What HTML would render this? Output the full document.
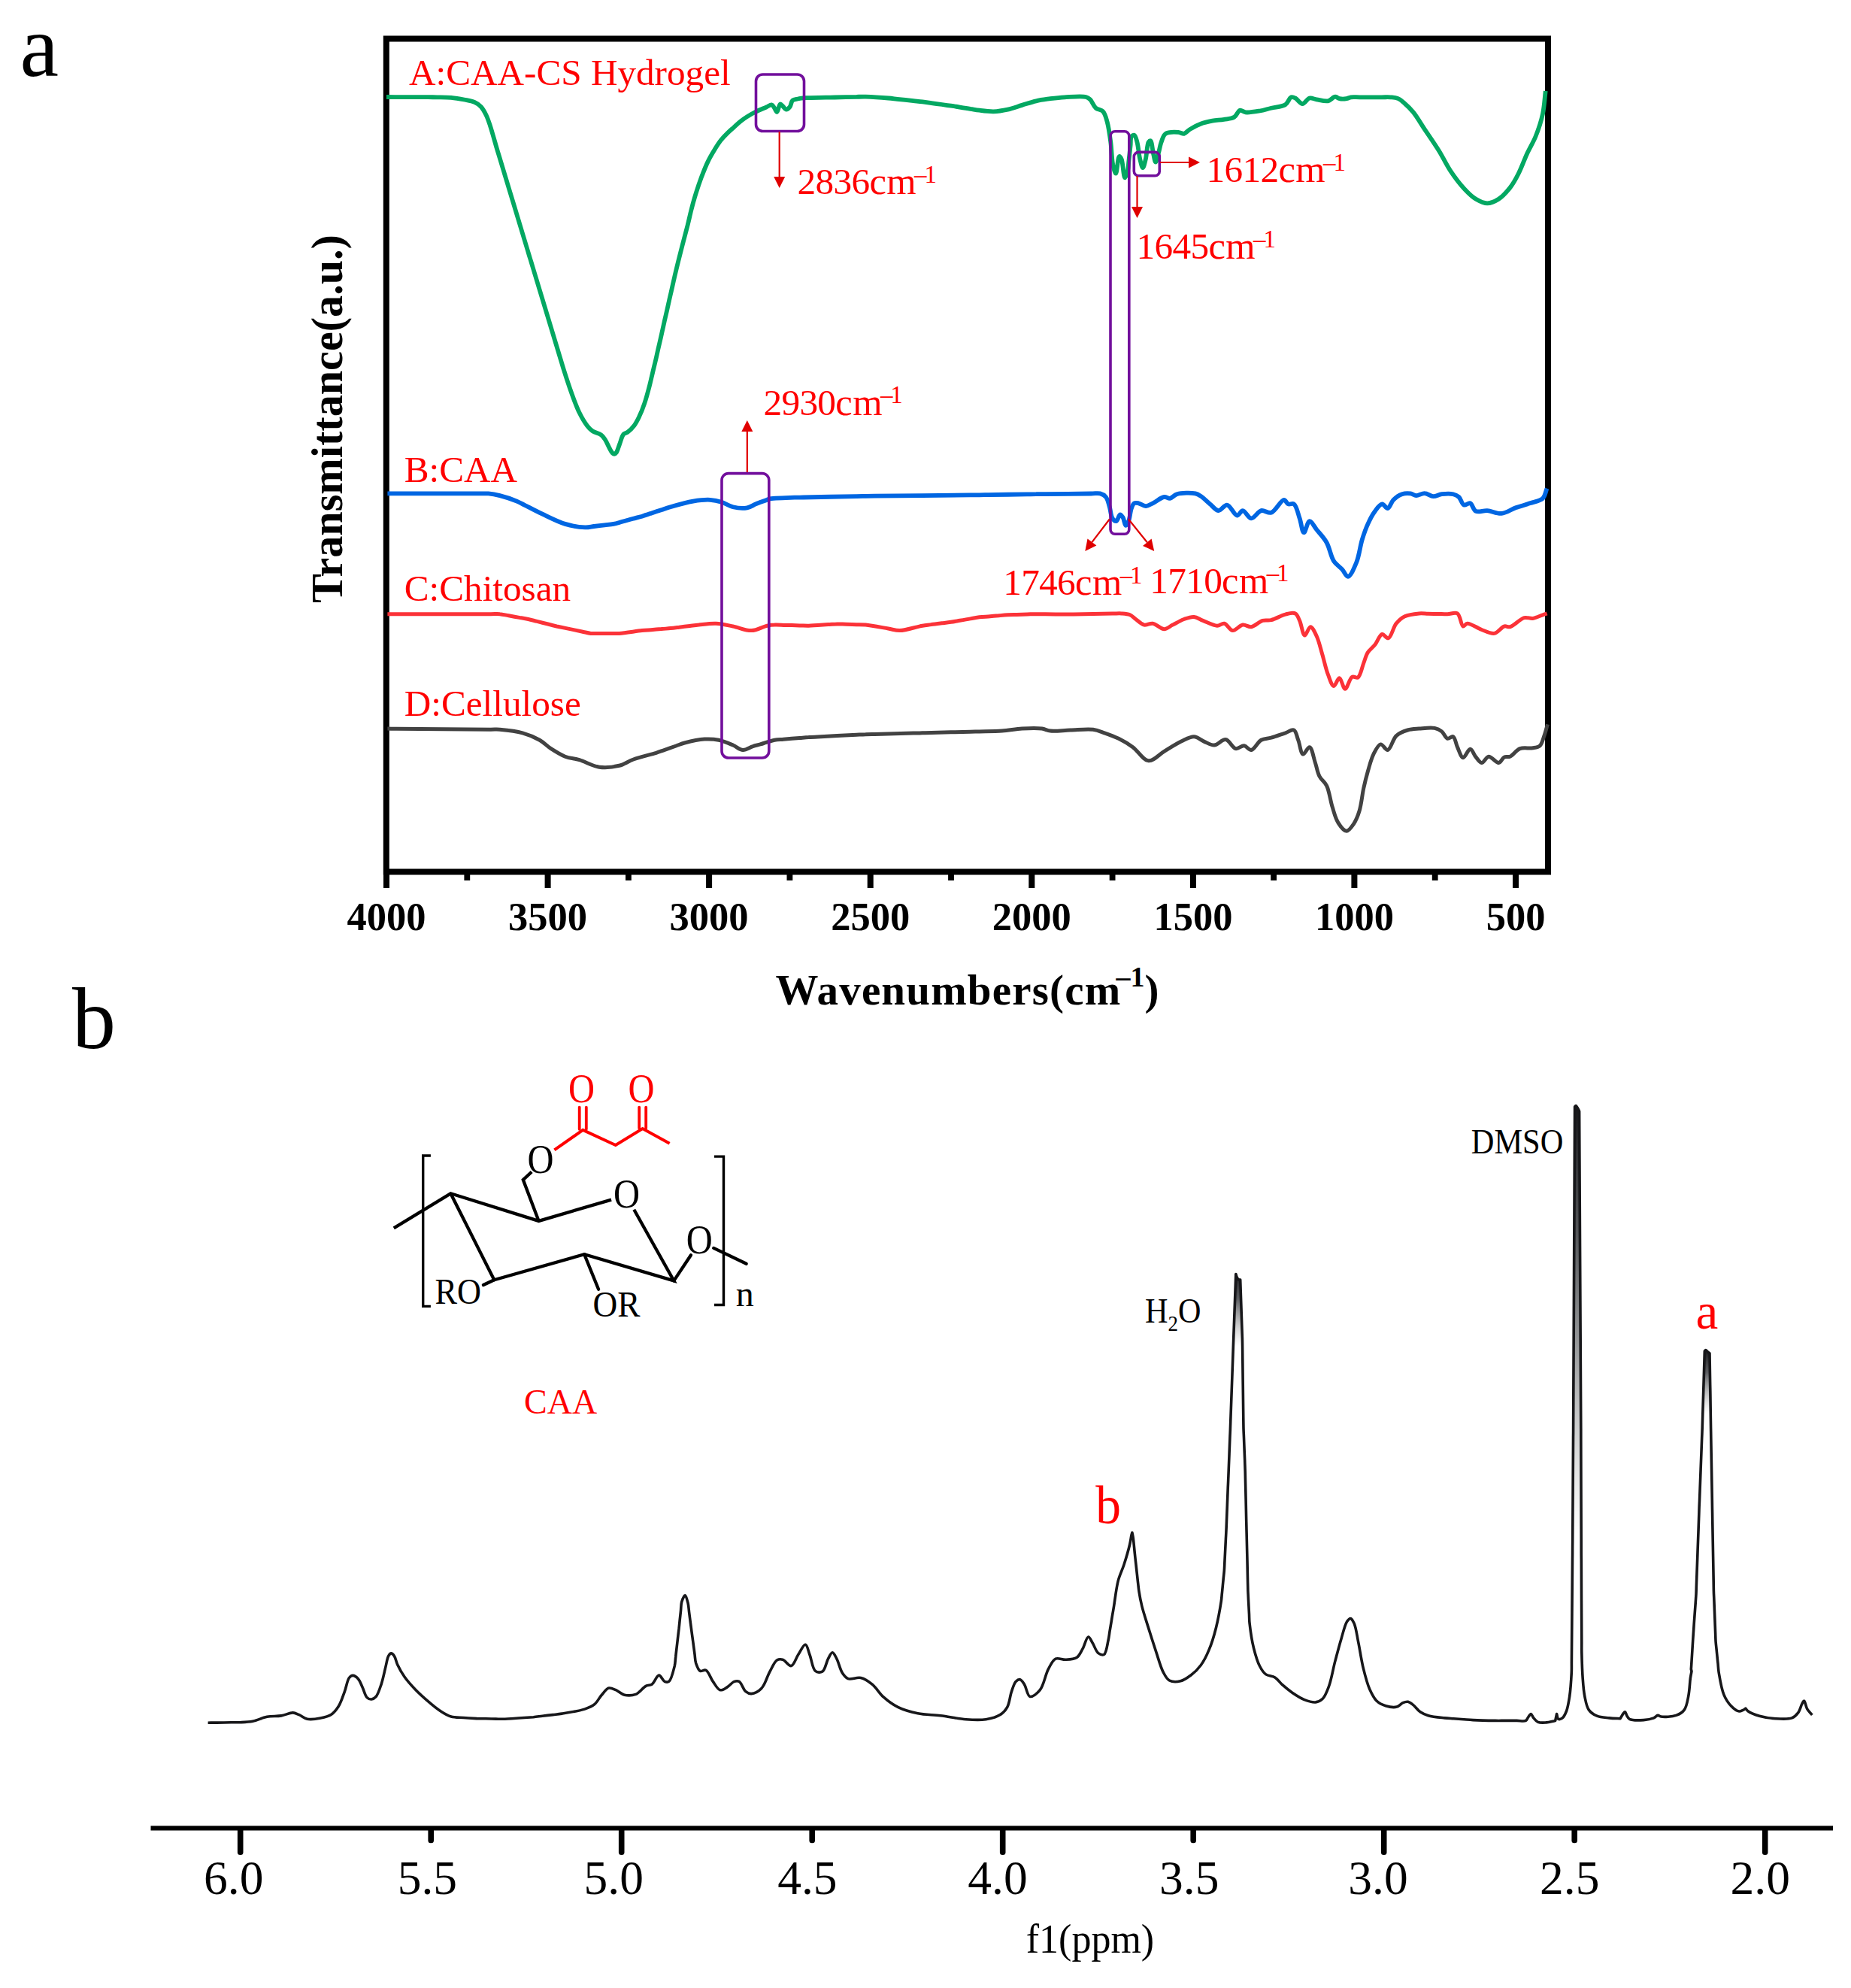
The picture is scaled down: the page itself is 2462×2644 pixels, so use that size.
<!DOCTYPE html>
<html lang="en"><head><meta charset="utf-8"><title>Figure</title>
<style>html,body{margin:0;padding:0;background:#fff}svg{display:block}text{font-family:"Liberation Serif","Times New Roman",serif}</style>
</head><body>
<svg width="2462" height="2644" viewBox="0 0 2462 2644">
<rect width="2462" height="2644" fill="#fff"/>
<text x="26.5" y="101.3" font-size="116" fill="#000">a</text>
<text x="96" y="1394" font-size="116" fill="#000">b</text>
<g id="panel-a">
<rect x="513.8" y="51.5" width="1545.2" height="1108.0" fill="none" stroke="#000" stroke-width="8"/>
<path d="M514.0,129.0 C518.0,129.0 520.8,129.0 526.0,129.1 C536.0,129.1 559.5,129.2 569.5,129.2 C574.7,129.3 577.1,129.2 581.5,129.3 C587.0,129.4 594.0,129.2 600.0,129.8 C605.9,130.3 611.9,131.4 617.3,132.5 C622.2,133.5 627.2,134.1 631.1,135.9 C634.5,137.4 637.3,139.3 639.8,142.0 C642.6,145.0 644.7,149.2 646.7,153.2 C648.8,157.5 650.1,161.6 651.9,167.1 C654.5,175.0 658.3,188.9 660.5,196.4 C661.9,201.1 662.2,202.0 664.0,207.9 C669.8,227.2 695.7,312.7 701.5,332.0 C703.3,337.9 703.8,339.7 705.0,343.5 C706.2,347.3 706.7,349.1 708.5,355.0 C714.4,374.4 740.5,461.0 746.4,480.4 C748.2,486.3 748.4,487.2 749.9,491.9 C752.4,499.8 756.7,513.1 760.3,523.0 C763.6,532.1 766.9,541.4 770.7,549.0 C773.9,555.5 777.7,561.9 781.0,566.2 C783.3,569.2 785.1,571.2 787.9,573.2 C791.2,575.5 797.0,576.3 800.0,578.7 C802.4,580.6 803.6,582.8 805.2,585.3 C807.1,588.3 808.7,592.5 810.4,595.6 C811.8,598.2 813.3,601.3 814.7,602.6 C815.5,603.4 816.2,604.0 817.0,603.9 C817.9,603.8 819.0,602.9 819.9,601.7 C821.5,599.5 822.7,594.4 824.2,590.5 C825.8,586.3 827.1,580.0 829.4,577.5 C830.9,575.9 832.8,576.2 834.6,574.9 C837.3,573.0 840.8,569.5 843.3,566.2 C846.0,562.7 848.0,558.6 850.2,554.1 C852.7,548.9 855.0,543.2 857.1,536.9 C859.6,529.6 862.3,519.3 864.0,512.7 C865.2,508.1 865.8,505.0 866.8,501.0 C867.8,496.8 868.9,492.2 869.9,488.0 C870.9,484.0 871.8,480.2 872.7,476.3 C873.6,472.4 874.4,468.7 875.3,464.6 C876.4,460.0 877.6,454.6 878.7,450.0 C879.6,445.9 880.4,442.2 881.3,438.3 C882.2,434.4 883.0,430.7 883.9,426.6 C885.0,422.0 886.2,416.6 887.3,412.0 C888.2,407.9 889.0,404.2 889.9,400.3 C890.8,396.4 891.6,392.7 892.6,388.6 C893.6,384.0 894.9,378.5 895.9,373.9 C896.9,369.8 897.4,367.1 898.6,362.2 C900.6,353.7 904.4,338.6 907.2,327.7 C909.7,318.0 912.3,308.6 914.5,300.0 C916.4,292.5 917.8,285.6 919.5,279.0 C921.0,273.0 922.3,268.1 924.2,261.8 C926.6,254.0 929.9,243.9 932.9,235.8 C935.7,228.5 938.4,221.4 941.5,215.1 C944.2,209.4 947.2,204.4 950.2,199.5 C953.0,194.9 955.8,190.5 958.8,186.6 C961.6,183.1 964.5,180.0 967.5,177.1 C970.3,174.3 973.2,171.9 976.1,169.3 C979.0,166.7 981.8,163.9 984.8,161.5 C987.6,159.3 990.2,157.4 993.4,155.4 C997.0,153.1 1001.3,150.6 1005.5,148.5 C1009.9,146.3 1015.5,144.2 1019.3,142.5 C1022.1,141.3 1024.5,138.9 1026.4,139.3 C1028.0,139.6 1028.9,142.0 1030.0,143.5 C1031.2,145.2 1032.3,149.1 1033.4,149.0 C1034.9,148.9 1036.0,139.0 1037.7,138.5 C1038.8,138.2 1040.3,140.4 1041.5,141.5 C1042.9,142.7 1044.0,145.5 1045.5,145.7 C1047.0,145.9 1049.2,143.9 1050.6,142.2 C1052.3,140.1 1052.2,135.4 1054.1,133.6 C1055.8,132.0 1058.4,132.0 1061.0,131.5 C1064.2,130.8 1067.5,130.5 1072.0,130.2 C1078.9,129.7 1091.3,129.9 1098.3,129.7 C1103.1,129.6 1105.5,129.6 1110.3,129.5 C1117.9,129.3 1131.7,129.0 1139.3,128.9 C1144.2,128.7 1146.4,128.5 1151.3,128.6 C1159.1,128.8 1173.8,129.8 1181.5,130.5 C1186.4,130.9 1188.9,131.3 1193.5,131.8 C1199.6,132.4 1208.9,133.4 1215.0,134.1 C1219.6,134.6 1223.0,134.9 1226.9,135.4 C1230.9,135.9 1234.7,136.5 1238.8,137.1 C1243.3,137.7 1248.4,138.4 1252.9,139.0 C1257.0,139.6 1260.8,140.1 1264.8,140.7 C1268.7,141.3 1272.5,141.9 1276.6,142.6 C1281.1,143.3 1286.2,144.1 1290.7,144.9 C1294.8,145.5 1298.2,146.2 1302.6,146.7 C1308.1,147.4 1315.2,148.4 1321.5,148.3 C1327.8,148.1 1334.1,147.0 1340.4,145.6 C1346.8,144.2 1353.0,141.8 1359.3,139.9 C1365.6,138.0 1371.9,135.7 1378.2,134.3 C1384.5,132.8 1390.8,132.1 1397.1,131.2 C1403.4,130.4 1409.1,129.7 1416.0,129.3 C1424.5,128.9 1438.7,127.4 1444.4,129.0 C1447.2,129.7 1448.2,130.6 1450.1,132.4 C1452.7,134.9 1454.5,141.0 1457.6,143.7 C1460.4,146.1 1464.7,145.6 1467.1,148.3 C1470.0,151.4 1471.2,157.0 1472.8,162.6 C1474.8,170.0 1476.1,180.0 1477.3,189.1 C1478.6,198.8 1478.7,211.8 1480.3,219.4 C1481.4,224.1 1482.9,230.8 1484.1,230.7 C1485.8,230.6 1486.7,208.5 1488.7,208.0 C1489.6,207.8 1490.8,209.8 1491.7,211.8 C1493.7,216.3 1494.4,236.2 1496.2,236.4 C1497.4,236.5 1499.2,230.3 1500.0,226.9 C1500.9,223.2 1500.8,219.6 1501.3,215.0 C1502.0,208.9 1503.0,199.6 1503.6,193.5 C1504.1,188.9 1503.4,183.7 1504.9,181.5 C1505.8,180.3 1507.6,179.2 1508.7,179.7 C1510.4,180.3 1511.4,185.2 1512.5,189.1 C1514.1,195.0 1514.7,205.6 1516.3,211.8 C1517.4,216.3 1518.8,223.1 1520.0,223.1 C1521.3,223.1 1522.7,216.3 1523.8,211.8 C1525.4,205.6 1525.6,192.4 1527.6,189.1 C1528.4,187.9 1529.5,186.9 1530.3,187.2 C1532.1,187.9 1532.8,199.1 1534.0,204.2 C1535.1,208.4 1535.9,215.5 1537.1,215.6 C1538.2,215.6 1539.7,208.3 1540.8,204.2 C1542.2,199.6 1542.9,193.7 1544.6,189.1 C1546.2,185.0 1547.0,180.0 1550.3,177.8 C1554.1,175.1 1562.8,175.6 1567.3,175.9 C1570.4,176.1 1572.5,178.2 1574.9,177.8 C1577.5,177.2 1579.4,174.0 1582.5,172.1 C1586.5,169.6 1592.4,166.4 1597.6,164.5 C1602.5,162.7 1607.6,161.7 1612.7,160.7 C1617.7,159.8 1622.9,159.7 1627.8,158.9 C1632.6,158.0 1638.0,158.0 1641.6,155.8 C1644.9,153.8 1646.4,147.5 1649.2,146.7 C1651.5,146.1 1653.6,149.0 1656.7,149.4 C1661.6,150.0 1669.7,148.5 1675.6,147.5 C1681.0,146.6 1685.4,145.0 1690.8,143.7 C1696.7,142.3 1705.1,142.1 1709.7,139.2 C1713.3,136.8 1714.6,130.4 1717.2,129.3 C1719.1,128.7 1720.9,129.5 1722.9,130.5 C1725.8,131.8 1729.2,138.0 1732.4,138.0 C1735.5,138.0 1738.5,131.3 1741.8,130.5 C1744.8,129.8 1747.8,131.8 1751.3,132.4 C1755.7,133.1 1762.1,135.2 1766.4,134.3 C1770.1,133.5 1773.1,128.7 1775.9,128.6 C1778.0,128.5 1779.3,130.8 1781.5,131.2 C1784.2,131.8 1788.3,131.7 1791.0,131.2 C1793.2,130.9 1794.4,129.7 1796.7,129.3 C1799.9,128.8 1803.8,129.3 1808.7,129.3 C1816.2,129.3 1830.1,129.3 1837.6,129.3 C1842.5,129.3 1845.9,129.1 1849.6,129.3 C1853.0,129.6 1856.1,129.6 1859.1,130.9 C1862.4,132.2 1865.4,134.9 1868.5,137.7 C1872.3,140.9 1876.0,144.6 1879.9,149.4 C1884.8,155.5 1889.7,164.1 1895.0,172.1 C1901.0,181.0 1908.1,191.1 1913.9,200.5 C1919.4,209.3 1923.4,218.5 1929.0,226.9 C1934.7,235.5 1941.7,244.8 1948.0,251.5 C1953.0,256.9 1957.7,261.6 1963.1,264.8 C1967.9,267.6 1973.2,270.4 1978.2,270.4 C1983.3,270.4 1988.6,267.8 1993.3,264.8 C1998.8,261.2 2004.1,255.2 2008.5,249.6 C2012.9,243.9 2016.3,237.7 2019.8,230.7 C2023.9,222.8 2027.3,212.7 2031.2,204.2 C2034.8,196.3 2039.2,189.8 2042.5,181.5 C2046.2,172.3 2049.8,161.5 2052.0,151.3 C2054.1,141.3 2054.5,131.1 2055.7,121.0" fill="none" stroke="#03a862" stroke-width="5.8" stroke-linejoin="round" stroke-linecap="butt"/>
<path d="M515.4,656.4 C519.4,656.4 521.3,656.4 527.4,656.4 C545.6,656.4 619.4,656.4 637.6,656.4 C643.6,656.4 645.4,656.1 649.6,656.4 C654.4,656.8 659.3,657.7 664.8,659.1 C671.6,660.8 681.4,664.1 687.4,666.6 C691.8,668.4 694.5,670.1 698.2,672.0 C702.2,674.0 706.7,676.3 710.7,678.3 C714.5,680.2 717.0,681.5 721.5,683.7 C729.0,687.2 741.8,693.9 751.7,696.9 C760.7,699.6 771.1,701.3 778.2,701.4 C783.0,701.6 786.0,700.5 790.1,700.0 C794.6,699.5 799.6,698.9 804.1,698.3 C808.3,697.8 812.1,697.7 816.0,696.9 C820.0,696.1 823.5,694.9 827.6,693.8 C832.2,692.5 837.7,691.1 842.3,689.8 C846.4,688.7 850.0,687.8 853.9,686.7 C857.7,685.5 861.2,684.3 865.3,682.9 C869.9,681.4 875.6,679.5 880.3,678.0 C884.3,676.6 886.9,675.6 891.7,674.2 C899.3,672.0 912.5,668.2 921.9,666.6 C930.0,665.3 937.9,664.4 944.6,664.8 C950.2,665.1 954.8,666.2 959.8,667.8 C964.9,669.4 969.4,672.9 974.9,674.2 C980.7,675.6 988.4,676.3 993.8,675.3 C998.2,674.6 1001.1,672.1 1005.1,670.4 C1009.8,668.5 1017.4,666.0 1020.3,664.8 C1021.4,664.3 1021.4,663.9 1022.7,663.6 C1027.4,662.4 1048.3,662.0 1056.7,661.7 C1061.7,661.5 1063.1,661.6 1068.7,661.5 C1082.5,661.2 1125.6,660.3 1139.3,660.1 C1145.0,660.0 1147.3,659.9 1151.3,659.8 C1155.3,659.8 1157.2,659.8 1163.3,659.7 C1183.2,659.5 1270.6,658.6 1290.6,658.4 C1296.7,658.4 1298.6,658.4 1302.6,658.3 C1306.6,658.3 1309.2,658.2 1314.6,658.1 C1325.8,658.0 1355.0,657.5 1366.2,657.4 C1371.6,657.3 1374.2,657.2 1378.2,657.2 C1382.2,657.1 1384.7,657.1 1390.2,657.1 C1402.7,657.0 1438.8,656.6 1451.3,656.5 C1456.9,656.5 1459.9,655.5 1463.3,656.4 C1466.3,657.2 1468.9,658.6 1470.9,661.0 C1473.4,664.0 1474.4,669.6 1475.8,674.2 C1477.3,679.0 1477.4,686.2 1479.6,689.3 C1481.0,691.4 1483.3,693.5 1484.9,693.1 C1486.8,692.7 1488.1,684.6 1489.8,684.4 C1491.0,684.2 1492.5,686.5 1493.6,688.2 C1495.2,690.7 1495.9,698.6 1497.4,698.8 C1498.5,698.9 1500.1,695.6 1501.1,693.1 C1502.9,689.1 1503.3,680.4 1504.9,676.1 C1506.0,673.2 1506.9,670.3 1508.7,669.3 C1510.2,668.4 1512.3,668.9 1514.4,669.3 C1517.2,669.8 1520.7,673.1 1523.8,673.1 C1527.0,673.1 1529.8,670.9 1533.3,669.3 C1537.8,667.2 1544.1,661.5 1548.4,661.0 C1551.3,660.6 1553.4,663.2 1556.0,662.9 C1559.0,662.4 1561.3,658.4 1565.4,657.2 C1571.5,655.4 1584.3,655.2 1590.0,656.4 C1593.4,657.2 1594.9,658.4 1597.6,660.2 C1601.2,662.6 1605.5,667.2 1609.5,670.4 C1613.2,673.5 1617.0,679.0 1620.8,679.1 C1624.5,679.2 1628.4,671.1 1632.1,671.6 C1636.6,672.1 1641.5,685.3 1645.4,685.6 C1648.2,685.7 1650.2,679.1 1653.0,679.1 C1656.4,679.2 1660.3,689.2 1664.3,689.3 C1668.5,689.5 1672.9,680.2 1677.5,679.1 C1681.7,678.1 1686.4,683.1 1690.8,681.8 C1696.6,680.0 1703.6,664.8 1707.8,664.8 C1710.2,664.8 1711.2,669.5 1713.5,670.4 C1715.6,671.3 1718.9,669.0 1721.0,670.4 C1724.6,672.8 1726.4,683.0 1728.6,689.3 C1730.8,695.6 1731.9,708.0 1734.3,708.2 C1736.4,708.4 1738.9,693.5 1741.8,693.1 C1744.6,692.8 1747.9,700.3 1751.3,704.5 C1755.4,709.5 1760.9,715.0 1764.5,721.5 C1768.6,728.7 1769.9,739.8 1774.0,746.1 C1777.2,751.0 1782.0,753.7 1785.3,757.4 C1788.2,760.6 1790.2,767.0 1792.9,766.9 C1796.5,766.6 1801.2,755.3 1804.2,748.0 C1807.8,739.3 1809.0,726.8 1811.8,717.7 C1814.1,710.1 1816.4,703.4 1819.4,696.9 C1822.1,690.8 1825.3,684.5 1828.8,679.9 C1831.7,676.0 1835.2,670.6 1838.3,670.4 C1840.9,670.2 1843.5,676.5 1845.8,676.1 C1848.6,675.6 1850.3,667.9 1853.4,664.8 C1856.6,661.6 1860.8,658.5 1864.8,657.2 C1868.4,656.0 1872.7,656.0 1876.1,656.4 C1878.9,656.8 1880.9,659.0 1883.7,659.1 C1887.0,659.2 1891.3,655.9 1895.0,656.1 C1898.8,656.2 1902.5,660.0 1906.4,660.2 C1910.1,660.4 1913.6,657.7 1917.7,657.2 C1922.3,656.6 1928.7,656.2 1932.8,657.2 C1935.9,657.9 1938.2,659.0 1940.4,661.0 C1943.1,663.4 1944.3,670.5 1947.2,671.6 C1949.6,672.5 1953.1,668.4 1955.5,669.3 C1958.5,670.4 1959.5,678.2 1963.1,679.9 C1966.9,681.7 1972.9,678.7 1978.2,679.1 C1984.2,679.6 1990.9,683.5 1997.1,682.9 C2003.5,682.3 2009.7,677.6 2016.0,675.3 C2022.3,673.1 2028.8,671.4 2034.9,669.3 C2040.8,667.2 2048.2,666.5 2052.0,662.9 C2055.3,659.6 2055.7,654.0 2057.6,649.6" fill="none" stroke="#0066e2" stroke-width="5.8" stroke-linejoin="round"/>
<path d="M515.4,816.7 C519.4,816.7 521.2,816.7 527.4,816.7 C547.1,816.7 633.0,816.7 652.8,816.7 C658.9,816.7 660.8,816.3 664.8,816.7 C668.7,817.0 672.4,818.1 676.6,818.8 C681.1,819.6 686.2,820.6 690.8,821.4 C694.9,822.1 698.7,822.7 702.6,823.5 C706.5,824.3 710.1,825.4 714.2,826.4 C718.8,827.5 724.2,828.9 728.8,830.0 C732.8,831.1 736.5,832.1 740.4,833.0 C744.3,833.8 747.6,834.5 752.1,835.4 C758.3,836.7 767.9,838.7 774.0,840.0 C778.6,840.9 781.8,842.0 785.8,842.4 C789.7,842.8 793.6,842.4 797.8,842.4 C802.2,842.4 807.2,842.4 811.6,842.4 C815.7,842.4 818.7,842.7 823.6,842.4 C831.4,841.9 846.1,839.4 853.9,838.6 C858.7,838.1 861.7,838.0 865.8,837.7 C870.3,837.3 875.3,836.9 879.7,836.6 C883.9,836.2 887.7,836.0 891.7,835.6 C895.7,835.2 899.5,834.7 903.6,834.2 C908.1,833.6 913.1,833.0 917.6,832.5 C921.7,832.0 924.9,831.5 929.5,831.1 C935.9,830.4 944.6,828.9 952.2,829.2 C959.8,829.5 967.2,831.4 974.9,833.0 C982.9,834.5 991.7,838.9 999.5,838.6 C1006.7,838.4 1014.6,833.4 1020.3,832.2 C1024.2,831.4 1026.8,831.2 1030.3,831.1 C1034.1,830.9 1037.7,831.2 1042.3,831.4 C1048.4,831.5 1057.5,831.7 1063.6,831.9 C1068.2,832.0 1071.6,832.3 1075.6,832.2 C1079.6,832.1 1083.5,831.7 1087.6,831.5 C1092.1,831.2 1097.0,830.9 1101.5,830.6 C1105.6,830.4 1109.5,830.0 1113.5,829.9 C1117.5,829.9 1121.3,830.2 1125.5,830.3 C1129.9,830.4 1134.8,830.6 1139.3,830.7 C1143.4,830.8 1146.4,830.6 1151.3,831.1 C1159.1,831.8 1173.2,834.6 1181.5,836.0 C1187.5,837.0 1190.8,838.7 1196.7,838.6 C1205.0,838.5 1219.1,833.5 1226.9,832.2 C1231.8,831.4 1234.7,831.2 1238.8,830.6 C1243.3,830.1 1248.4,829.4 1252.9,828.8 C1257.0,828.3 1260.8,827.9 1264.8,827.3 C1268.7,826.7 1272.5,826.0 1276.6,825.3 C1281.1,824.5 1286.2,823.6 1290.7,822.9 C1294.9,822.2 1298.6,821.3 1302.6,820.8 C1306.5,820.4 1310.4,820.2 1314.5,819.9 C1319.0,819.5 1324.0,819.1 1328.4,818.8 C1332.6,818.4 1336.4,818.0 1340.4,817.8 C1344.4,817.6 1348.2,817.6 1352.4,817.5 C1356.8,817.3 1361.8,817.2 1366.2,817.0 C1370.4,816.9 1374.2,816.7 1378.2,816.7 C1382.2,816.6 1386.1,816.8 1390.2,816.8 C1394.7,816.9 1399.6,816.9 1404.0,816.9 C1408.2,817.0 1412.0,817.1 1416.0,817.1 C1420.0,817.1 1422.6,817.0 1428.0,816.9 C1439.2,816.7 1468.5,816.3 1479.7,816.1 C1485.1,816.0 1487.7,815.6 1491.7,815.9 C1495.5,816.2 1499.8,816.4 1503.0,817.8 C1506.0,819.1 1507.8,821.5 1510.6,823.5 C1514.0,825.9 1518.0,830.2 1521.9,831.1 C1525.6,831.8 1529.3,828.6 1533.3,829.2 C1538.1,829.9 1543.7,836.7 1548.4,836.7 C1552.5,836.7 1555.7,833.1 1559.8,831.1 C1564.4,828.7 1569.9,825.3 1574.9,823.5 C1579.3,821.9 1583.9,820.1 1588.1,820.5 C1592.2,820.8 1595.6,823.7 1600.0,825.4 C1605.6,827.5 1613.7,832.1 1618.9,832.2 C1622.6,832.3 1625.2,828.6 1628.4,829.2 C1632.2,829.9 1635.7,838.3 1639.7,838.6 C1643.8,839.0 1648.6,831.7 1653.0,831.1 C1656.8,830.5 1660.4,834.2 1664.3,833.7 C1669.1,833.0 1674.6,826.8 1679.4,825.4 C1683.3,824.2 1686.6,825.6 1690.8,824.6 C1696.4,823.4 1703.8,818.5 1709.7,817.1 C1714.4,815.9 1719.7,814.3 1722.9,815.9 C1725.8,817.4 1726.8,821.6 1728.6,825.4 C1731.1,830.7 1732.7,844.7 1735.4,845.1 C1737.6,845.3 1740.4,833.7 1743.0,833.7 C1745.7,833.7 1748.9,841.1 1751.3,846.2 C1754.4,852.8 1756.4,862.4 1758.9,870.8 C1761.4,879.4 1763.5,889.8 1766.4,897.2 C1768.7,903.1 1771.3,912.2 1774.0,912.4 C1776.4,912.6 1779.1,901.6 1781.5,901.8 C1784.2,902.0 1786.4,916.1 1789.1,916.2 C1792.0,916.2 1794.9,902.1 1798.6,900.3 C1800.9,899.1 1804.0,902.3 1806.1,901.0 C1809.6,898.9 1811.4,888.0 1813.7,882.1 C1815.7,877.0 1816.7,871.9 1819.4,867.7 C1821.9,863.8 1825.8,861.3 1828.8,857.5 C1832.1,853.3 1834.9,844.3 1838.3,843.5 C1840.9,843.0 1844.0,849.5 1846.6,848.8 C1850.5,847.8 1853.0,834.2 1857.2,829.2 C1860.6,825.0 1863.9,821.9 1868.5,819.7 C1873.8,817.2 1881.8,816.4 1887.4,815.9 C1891.9,815.5 1895.3,816.1 1899.4,816.2 C1903.9,816.3 1908.8,816.4 1913.3,816.4 C1917.4,816.5 1921.2,816.8 1925.3,816.7 C1929.6,816.6 1935.1,813.9 1938.5,815.9 C1942.5,818.4 1943.2,832.1 1946.1,833.0 C1947.8,833.5 1949.2,829.4 1951.7,829.2 C1956.1,828.8 1964.4,835.2 1970.7,837.5 C1976.4,839.6 1982.5,843.3 1987.7,842.4 C1992.6,841.6 1996.9,834.0 2000.9,833.0 C2003.6,832.2 2005.5,834.4 2008.5,833.7 C2013.5,832.5 2021.7,823.1 2027.4,821.6 C2031.5,820.6 2034.9,822.9 2038.7,822.4 C2043.0,821.8 2048.5,819.0 2052.0,817.8 C2054.3,817.0 2055.7,816.6 2057.6,815.9" fill="none" stroke="#fb3238" stroke-width="5" stroke-linejoin="round"/>
<path d="M515.4,969.1 C519.4,969.1 521.2,969.2 527.4,969.2 C547.1,969.3 633.0,970.0 652.8,970.2 C658.9,970.2 659.9,969.9 664.8,970.2 C672.6,970.9 685.8,972.2 695.0,974.8 C703.3,977.1 711.1,980.5 717.7,984.2 C723.5,987.5 727.4,992.0 732.8,995.6 C738.7,999.4 745.3,1003.6 751.7,1006.2 C757.9,1008.6 763.9,1008.7 770.7,1010.7 C778.8,1013.1 788.2,1018.9 797.1,1020.2 C805.8,1021.4 815.7,1020.2 823.6,1018.3 C830.6,1016.5 835.4,1012.5 842.5,1010.0 C851.3,1006.8 865.1,1003.7 872.8,1001.3 C877.5,999.8 880.0,998.7 884.1,997.3 C888.8,995.7 894.6,993.6 899.3,992.0 C903.3,990.6 906.0,989.2 910.6,988.0 C917.5,986.2 929.0,983.6 937.1,983.1 C943.9,982.7 949.8,983.0 956.0,984.2 C962.4,985.6 969.2,988.6 974.9,991.0 C979.8,993.1 983.7,997.3 988.1,997.5 C992.5,997.7 997.2,993.9 1001.4,992.6 C1004.9,991.4 1007.5,991.0 1011.3,989.9 C1016.7,988.4 1024.6,985.3 1030.3,984.2 C1034.6,983.4 1037.7,983.6 1042.2,983.2 C1048.3,982.7 1057.6,982.0 1063.7,981.5 C1068.2,981.1 1071.7,980.7 1075.6,980.5 C1079.6,980.2 1082.2,980.1 1087.6,979.9 C1098.8,979.3 1128.1,977.8 1139.3,977.3 C1144.7,977.0 1147.3,976.8 1151.3,976.7 C1155.3,976.5 1157.9,976.5 1163.3,976.4 C1174.5,976.1 1203.7,975.4 1214.9,975.1 C1220.3,974.9 1222.9,974.9 1226.9,974.8 C1230.9,974.7 1233.5,974.6 1238.9,974.5 C1250.1,974.2 1279.4,973.5 1290.6,973.2 C1296.0,973.1 1297.7,973.0 1302.6,972.9 C1310.4,972.7 1323.1,972.8 1332.8,972.1 C1342.0,971.5 1350.5,969.6 1359.3,969.1 C1368.1,968.6 1378.8,968.2 1385.8,969.1 C1390.4,969.7 1392.5,971.6 1397.1,972.1 C1404.1,972.9 1414.5,971.3 1423.6,971.0 C1433.3,970.7 1445.6,969.1 1453.9,970.2 C1459.8,971.0 1463.7,972.9 1469.0,974.8 C1475.0,976.9 1481.7,979.3 1487.9,982.3 C1494.3,985.5 1500.6,989.1 1506.8,993.7 C1513.8,998.8 1520.4,1011.2 1527.6,1011.8 C1534.3,1012.4 1541.3,1003.6 1548.4,999.4 C1555.8,995.0 1563.9,989.5 1571.1,986.1 C1577.1,983.3 1582.9,979.5 1588.1,979.7 C1592.9,979.9 1596.9,984.2 1601.4,986.1 C1605.9,988.0 1610.5,991.3 1615.1,991.0 C1620.1,990.7 1625.6,982.8 1630.3,983.5 C1635.1,984.1 1639.0,994.6 1643.5,995.6 C1647.2,996.4 1651.3,991.4 1654.8,991.8 C1658.2,992.2 1661.0,997.9 1664.3,997.5 C1668.5,997.0 1672.7,986.9 1677.5,984.2 C1681.6,982.0 1686.0,982.6 1690.8,981.2 C1696.6,979.6 1704.2,976.6 1709.7,974.8 C1713.9,973.3 1718.2,969.7 1721.0,971.0 C1724.1,972.4 1724.8,979.4 1726.7,984.2 C1728.9,989.9 1730.2,1002.5 1733.1,1003.1 C1735.5,1003.6 1739.4,993.2 1741.8,993.7 C1745.1,994.3 1747.1,1007.8 1749.4,1014.5 C1751.5,1020.7 1752.3,1027.4 1755.1,1032.6 C1757.5,1037.3 1761.9,1039.5 1764.5,1044.8 C1768.1,1052.0 1769.4,1064.4 1772.1,1073.1 C1774.5,1080.6 1776.1,1088.3 1779.7,1093.9 C1782.7,1098.7 1787.4,1105.3 1791.0,1105.3 C1794.3,1105.3 1797.8,1099.7 1800.5,1095.8 C1803.6,1091.2 1806.0,1085.4 1808.0,1078.8 C1810.7,1070.3 1811.7,1057.9 1813.7,1048.5 C1815.5,1040.4 1817.2,1033.4 1819.4,1025.8 C1821.6,1018.2 1823.7,1009.5 1826.9,1003.1 C1829.6,997.9 1833.0,990.4 1836.4,989.9 C1839.3,989.5 1842.8,998.0 1845.8,997.5 C1849.9,996.7 1852.4,983.0 1857.2,978.6 C1861.4,974.6 1867.1,972.6 1872.3,971.0 C1877.2,969.5 1882.0,969.5 1887.4,969.1 C1893.8,968.6 1902.8,967.2 1908.2,968.4 C1912.1,969.2 1914.9,970.7 1917.7,972.9 C1920.7,975.3 1922.4,981.5 1925.3,982.3 C1927.6,983.0 1930.8,978.8 1932.8,979.7 C1935.6,981.0 1936.3,989.1 1938.5,993.7 C1940.7,998.4 1943.2,1007.4 1946.1,1007.7 C1948.9,1008.0 1952.6,996.2 1955.5,996.3 C1958.3,996.4 1960.4,1003.8 1963.1,1006.9 C1965.5,1009.8 1967.9,1014.4 1970.7,1014.5 C1973.6,1014.6 1976.6,1006.5 1980.1,1006.2 C1984.0,1005.9 1989.7,1014.9 1993.3,1014.5 C1996.4,1014.2 1998.1,1008.2 2000.9,1006.9 C2003.2,1005.8 2005.8,1007.3 2008.5,1006.2 C2012.5,1004.5 2016.7,997.5 2021.7,995.6 C2026.8,993.7 2033.9,995.7 2038.7,994.8 C2042.4,994.2 2045.8,994.0 2048.2,991.8 C2051.1,989.1 2052.2,983.2 2053.9,978.6 C2055.6,973.7 2056.9,968.5 2058.4,963.4" fill="none" stroke="#424242" stroke-width="5" stroke-linejoin="round"/>
<rect x="510.0" y="1159" width="8" height="22" fill="#000"/>
<rect x="617.4" y="1159" width="7.8" height="12" fill="#000"/>
<rect x="724.6" y="1159" width="8" height="22" fill="#000"/>
<rect x="832.0" y="1159" width="7.8" height="12" fill="#000"/>
<rect x="939.1" y="1159" width="8" height="22" fill="#000"/>
<rect x="1046.5" y="1159" width="7.8" height="12" fill="#000"/>
<rect x="1153.7" y="1159" width="8" height="22" fill="#000"/>
<rect x="1261.1" y="1159" width="7.8" height="12" fill="#000"/>
<rect x="1368.3" y="1159" width="8" height="22" fill="#000"/>
<rect x="1475.7" y="1159" width="7.8" height="12" fill="#000"/>
<rect x="1582.9" y="1159" width="8" height="22" fill="#000"/>
<rect x="1690.2" y="1159" width="7.8" height="12" fill="#000"/>
<rect x="1797.4" y="1159" width="8" height="22" fill="#000"/>
<rect x="1904.8" y="1159" width="7.8" height="12" fill="#000"/>
<rect x="2012.0" y="1159" width="8" height="22" fill="#000"/>
<text x="514.0" y="1237" font-size="52.5" font-weight="bold" text-anchor="middle" fill="#000">4000</text>
<text x="728.6" y="1237" font-size="52.5" font-weight="bold" text-anchor="middle" fill="#000">3500</text>
<text x="943.1" y="1237" font-size="52.5" font-weight="bold" text-anchor="middle" fill="#000">3000</text>
<text x="1157.7" y="1237" font-size="52.5" font-weight="bold" text-anchor="middle" fill="#000">2500</text>
<text x="1372.3" y="1237" font-size="52.5" font-weight="bold" text-anchor="middle" fill="#000">2000</text>
<text x="1586.9" y="1237" font-size="52.5" font-weight="bold" text-anchor="middle" fill="#000">1500</text>
<text x="1801.4" y="1237" font-size="52.5" font-weight="bold" text-anchor="middle" fill="#000">1000</text>
<text x="2016.0" y="1237" font-size="52.5" font-weight="bold" text-anchor="middle" fill="#000">500</text>
<text font-size="57" font-weight="bold" fill="#000"><tspan x="1031.5" y="1335.5" letter-spacing="1.18">Wavenumbers(cm</tspan><tspan x="1484.5" y="1312.4" font-size="38">–1</tspan><tspan x="1522.5" y="1335.5">)</tspan></text>
<text transform="translate(454.6,802) rotate(-90)" font-size="60" font-weight="bold" fill="#000" textLength="490" lengthAdjust="spacingAndGlyphs">Transmittance(a.u.)</text>
<rect x="1005.5" y="99" width="64" height="75.5" rx="9" fill="none" stroke="#720f9c" stroke-width="3.6"/>
<rect x="960" y="629.6" width="62.8" height="378.4" rx="9" fill="none" stroke="#720f9c" stroke-width="3.6"/>
<rect x="1477" y="174.8" width="24.8" height="535.4" rx="6" fill="none" stroke="#720f9c" stroke-width="3.6"/>
<rect x="1508.3" y="202.4" width="34" height="31.4" rx="6" fill="none" stroke="#720f9c" stroke-width="3.6"/>
<line x1="1036.7" y1="175.0" x2="1036.7" y2="235.0" stroke="#e00000" stroke-width="2.2"/>
<polygon points="1036.7,250.0 1029.2,235.0 1044.2,235.0" fill="#e00000"/>
<line x1="993.8" y1="628.0" x2="993.8" y2="574.0" stroke="#e00000" stroke-width="2.2"/>
<polygon points="993.8,559.0 1001.3,574.0 986.3,574.0" fill="#e00000"/>
<line x1="1475.8" y1="690.5" x2="1452.4" y2="721.1" stroke="#e00000" stroke-width="2.2"/>
<polygon points="1443.3,733.0 1446.5,716.5 1458.4,725.6" fill="#e00000"/>
<line x1="1501.0" y1="690.5" x2="1525.8" y2="721.3" stroke="#e00000" stroke-width="2.2"/>
<polygon points="1535.2,733.0 1520.0,726.0 1531.6,716.6" fill="#e00000"/>
<line x1="1543.0" y1="216.0" x2="1581.0" y2="216.0" stroke="#e00000" stroke-width="2.2"/>
<polygon points="1596.0,216.0 1581.0,223.5 1581.0,208.5" fill="#e00000"/>
<line x1="1512.5" y1="234.0" x2="1512.5" y2="275.0" stroke="#e00000" stroke-width="2.2"/>
<polygon points="1512.5,290.0 1505.0,275.0 1520.0,275.0" fill="#e00000"/>
<text x="544" y="112.8" font-size="49.2" fill="#ff0000">A:CAA-CS Hydrogel</text>
<text x="537.8" y="641" font-size="49.2" fill="#ff0000">B:CAA</text>
<text x="537.8" y="799" font-size="49.2" fill="#ff0000">C:Chitosan</text>
<text x="537.8" y="952.2" font-size="49.2" fill="#ff0000">D:Cellulose</text>
<text x="1060.6" y="258.4" font-size="49.3" fill="#ff0000"><tspan letter-spacing="-0.7">2836</tspan><tspan font-size="50.5" letter-spacing="0.5">cm</tspan><tspan font-size="33" dy="-15.2" dx="-3">–<tspan dx="-3.2">1</tspan></tspan></text>
<text x="1604.6" y="241.8" font-size="49.3" fill="#ff0000"><tspan letter-spacing="-0.7">1612</tspan><tspan font-size="50.5" letter-spacing="0.5">cm</tspan><tspan font-size="33" dy="-15.2" dx="-3">–<tspan dx="-3.2">1</tspan></tspan></text>
<text x="1511.6" y="344.0" font-size="49.3" fill="#ff0000"><tspan letter-spacing="-0.7">1645</tspan><tspan font-size="50.5" letter-spacing="0.5">cm</tspan><tspan font-size="33" dy="-15.2" dx="-3">–<tspan dx="-3.2">1</tspan></tspan></text>
<text x="1015.5" y="551.5" font-size="49.3" fill="#ff0000"><tspan letter-spacing="-0.7">2930</tspan><tspan font-size="50.5" letter-spacing="0.5">cm</tspan><tspan font-size="33" dy="-15.2" dx="-3">–<tspan dx="-3.2">1</tspan></tspan></text>
<text x="1334.2" y="791.2" font-size="49.3" fill="#ff0000"><tspan letter-spacing="-0.7">1746</tspan><tspan font-size="50.5" letter-spacing="0.5">cm</tspan><tspan font-size="33" dy="-15.2" dx="-3">–<tspan dx="-3.2">1</tspan></tspan></text>
<text x="1529.3" y="788.6" font-size="49.3" fill="#ff0000"><tspan letter-spacing="-0.7">1710</tspan><tspan font-size="50.5" letter-spacing="0.5">cm</tspan><tspan font-size="33" dy="-15.2" dx="-3">–<tspan dx="-3.2">1</tspan></tspan></text>
</g>
<g id="panel-b">
<defs><linearGradient id="gD" gradientUnits="userSpaceOnUse" x1="0" y1="1470" x2="0" y2="2040"><stop offset="0" stop-color="#17171a" stop-opacity="1"/><stop offset="0.3" stop-color="#55575a" stop-opacity="1"/><stop offset="0.55" stop-color="#8a8c8e" stop-opacity="0.9"/><stop offset="1" stop-color="#b0b0b0" stop-opacity="0"/></linearGradient><linearGradient id="gH" gradientUnits="userSpaceOnUse" x1="0" y1="1694" x2="0" y2="1790"><stop offset="0" stop-color="#17171a" stop-opacity="1"/><stop offset="0.35" stop-color="#4a4c50" stop-opacity="0.9"/><stop offset="1" stop-color="#a0a0a0" stop-opacity="0"/></linearGradient><linearGradient id="gA" gradientUnits="userSpaceOnUse" x1="0" y1="1796" x2="0" y2="1880"><stop offset="0" stop-color="#17171a" stop-opacity="1"/><stop offset="0.35" stop-color="#4a4c50" stop-opacity="0.9"/><stop offset="1" stop-color="#a0a0a0" stop-opacity="0"/></linearGradient></defs>
<polygon points="2094.6,1472 2100.6,1478 2103.2,2040 2091.6,2040" fill="url(#gD)"/>
<polygon points="1643.8,1694.5 1649.7,1702 1652.6,1790 1640.2,1790" fill="url(#gH)"/>
<polygon points="2267.3,1797 2274,1800 2277.8,1880 2264.8,1880" fill="url(#gA)"/>
<path d="M276.6,2291.2 C280.6,2291.2 284.2,2291.1 288.6,2291.1 C294.2,2291.0 301.8,2290.9 307.4,2290.8 C311.8,2290.8 315.1,2290.9 319.4,2290.7 C324.5,2290.5 330.4,2290.4 336.1,2289.3 C342.3,2288.1 348.7,2284.5 355.1,2283.3 C361.4,2282.1 368.1,2282.9 374.1,2281.9 C379.5,2281.0 385.2,2277.8 389.5,2277.9 C392.7,2278.0 395.0,2279.5 397.9,2280.7 C401.3,2282.1 404.4,2285.3 408.6,2286.2 C413.7,2287.2 420.9,2286.1 426.4,2285.0 C431.5,2284.0 436.7,2282.8 440.7,2280.2 C444.6,2277.6 447.4,2273.9 450.2,2269.5 C453.6,2264.1 456.1,2255.9 458.5,2249.3 C460.8,2243.2 461.8,2234.8 464.4,2231.5 C465.8,2229.7 467.4,2228.4 469.2,2228.4 C471.3,2228.4 474.3,2230.5 476.3,2232.7 C478.9,2235.5 480.4,2240.5 482.3,2244.6 C484.3,2248.8 485.6,2255.3 488.2,2257.7 C489.9,2259.3 492.2,2260.2 494.1,2260.0 C496.1,2259.8 498.3,2258.5 500.1,2256.5 C503.0,2253.2 505.1,2245.9 507.2,2239.8 C509.6,2232.7 511.4,2222.9 513.1,2216.1 C514.4,2210.9 515.0,2205.2 516.7,2202.3 C517.7,2200.6 519.1,2198.9 520.3,2198.9 C521.6,2198.9 523.1,2200.6 524.3,2202.3 C526.1,2204.8 526.7,2209.6 528.6,2213.7 C531.0,2218.8 534.3,2224.9 538.1,2230.3 C542.2,2236.1 547.3,2241.7 552.4,2247.0 C557.6,2252.4 563.4,2257.6 569.0,2262.4 C574.4,2267.1 580.1,2271.9 585.6,2275.5 C590.4,2278.6 594.8,2281.6 599.9,2283.1 C605.1,2284.6 610.9,2284.1 616.5,2284.5 C622.2,2284.9 628.6,2285.3 633.9,2285.6 C638.2,2285.7 641.7,2285.7 645.9,2285.8 C650.3,2285.9 655.2,2286.0 659.7,2286.1 C663.8,2286.2 667.7,2286.4 671.7,2286.3 C675.7,2286.2 679.5,2285.8 683.6,2285.5 C688.1,2285.2 693.1,2284.8 697.5,2284.5 C701.7,2284.2 705.5,2284.0 709.5,2283.7 C713.5,2283.3 717.3,2282.7 721.4,2282.2 C725.9,2281.7 730.9,2281.1 735.4,2280.6 C739.5,2280.1 742.5,2279.9 747.3,2279.1 C755.1,2277.9 769.7,2275.7 777.6,2273.1 C783.0,2271.2 787.1,2269.7 790.8,2266.6 C794.7,2263.5 797.0,2257.9 800.3,2254.2 C803.3,2250.8 806.3,2245.9 809.7,2245.1 C812.7,2244.3 816.0,2246.4 819.2,2247.7 C822.9,2249.3 826.3,2253.2 830.5,2254.2 C835.1,2255.2 842.2,2254.6 845.7,2253.4 C847.7,2252.7 848.3,2251.7 850.0,2250.4 C852.6,2248.3 856.3,2243.7 859.5,2242.1 C862.0,2240.7 864.6,2241.7 867.0,2240.2 C870.4,2238.0 873.4,2228.2 876.5,2228.1 C879.1,2228.0 881.4,2235.2 884.0,2236.4 C885.9,2237.2 888.0,2237.6 889.7,2236.4 C893.0,2234.1 895.8,2221.6 897.3,2215.6 C898.3,2211.1 898.1,2208.4 898.7,2203.7 C899.4,2196.8 900.8,2185.2 901.6,2178.3 C902.1,2173.6 902.5,2170.4 903.0,2166.4 C903.4,2162.4 903.8,2158.5 904.2,2154.5 C904.6,2150.5 905.1,2146.4 905.5,2142.4 C905.9,2138.4 905.7,2134.1 906.7,2130.5 C907.7,2127.3 909.9,2121.7 911.3,2121.8 C912.7,2121.9 914.2,2128.7 915.1,2132.4 C916.0,2136.2 916.1,2140.1 916.6,2144.3 C917.2,2148.8 917.8,2153.8 918.4,2158.3 C919.0,2162.4 919.4,2166.2 920.0,2170.2 C920.5,2174.2 921.0,2177.7 921.6,2182.1 C922.3,2187.4 923.3,2194.6 924.0,2199.9 C924.6,2204.3 924.4,2208.1 925.6,2211.8 C926.9,2215.5 928.7,2221.1 931.3,2222.4 C933.4,2223.4 936.5,2220.2 938.9,2221.3 C942.5,2222.9 945.0,2231.8 948.3,2236.4 C951.4,2240.6 954.3,2246.8 957.8,2247.7 C960.7,2248.5 964.2,2245.7 967.2,2243.9 C970.5,2242.0 973.7,2237.4 976.7,2236.4 C978.9,2235.6 981.1,2235.3 983.1,2236.4 C986.3,2238.1 988.6,2247.0 991.8,2249.6 C994.2,2251.5 996.6,2252.8 999.4,2252.6 C1003.2,2252.5 1008.9,2249.6 1012.6,2245.8 C1017.5,2240.9 1020.2,2229.9 1024.0,2223.1 C1027.1,2217.5 1029.9,2210.2 1033.4,2208.0 C1035.8,2206.6 1038.4,2206.5 1041.0,2207.3 C1044.6,2208.2 1049.0,2216.2 1052.3,2215.6 C1056.1,2214.9 1058.6,2205.3 1061.8,2200.5 C1064.9,2195.8 1068.7,2186.9 1071.3,2187.2 C1073.7,2187.5 1075.0,2195.4 1076.9,2200.5 C1079.4,2206.8 1080.5,2219.3 1084.5,2222.4 C1087.0,2224.4 1091.4,2224.7 1093.9,2223.1 C1097.6,2221.0 1099.0,2210.7 1101.5,2206.1 C1103.4,2202.8 1105.3,2197.8 1107.2,2197.8 C1109.1,2197.8 1111.0,2202.7 1112.9,2206.1 C1115.5,2211.0 1117.3,2220.4 1120.4,2225.0 C1122.7,2228.4 1124.6,2231.3 1128.0,2232.6 C1132.3,2234.2 1139.7,2230.2 1145.0,2231.5 C1150.4,2232.7 1155.4,2236.3 1160.1,2240.2 C1165.6,2244.6 1169.6,2252.2 1175.3,2257.2 C1181.0,2262.3 1187.0,2266.9 1194.2,2270.4 C1202.0,2274.3 1211.4,2276.9 1220.7,2278.7 C1230.3,2280.7 1240.5,2280.5 1250.9,2281.8 C1261.9,2283.1 1274.3,2285.9 1284.9,2286.7 C1294.3,2287.4 1303.4,2287.9 1311.4,2286.7 C1318.3,2285.6 1325.4,2283.8 1330.3,2280.6 C1334.5,2278.0 1337.4,2274.8 1339.8,2270.4 C1342.8,2265.0 1343.3,2255.7 1345.5,2249.6 C1347.2,2244.6 1348.7,2238.9 1351.1,2236.4 C1352.8,2234.7 1355.0,2233.4 1356.8,2233.7 C1358.9,2234.2 1360.7,2237.4 1362.5,2240.2 C1365.1,2244.2 1366.4,2255.4 1370.0,2256.4 C1373.5,2257.4 1379.6,2252.3 1383.3,2247.7 C1388.4,2241.4 1390.5,2226.8 1394.6,2219.4 C1397.6,2213.9 1400.0,2208.0 1404.1,2206.1 C1407.8,2204.4 1412.8,2207.5 1417.3,2207.3 C1422.2,2207.0 1428.6,2206.8 1432.5,2204.2 C1436.0,2201.8 1437.6,2197.1 1440.0,2192.9 C1442.7,2188.1 1445.1,2177.2 1447.6,2177.0 C1449.5,2176.9 1451.3,2182.2 1453.3,2185.3 C1455.7,2189.2 1457.7,2196.2 1460.8,2198.6 C1463.0,2200.2 1466.4,2201.6 1468.4,2200.5 C1471.6,2198.6 1472.8,2187.1 1474.1,2181.5 C1475.1,2177.2 1475.3,2174.2 1476.0,2169.7 C1477.1,2163.6 1478.6,2154.1 1479.6,2148.0 C1480.4,2143.5 1480.8,2141.1 1481.6,2136.2 C1483.0,2127.7 1484.7,2112.0 1487.3,2102.1 C1489.4,2094.2 1492.4,2088.8 1494.9,2081.3 C1497.6,2072.9 1501.0,2061.3 1502.7,2054.0 C1503.8,2049.1 1504.1,2045.9 1504.9,2041.8 L1505.9,2038.3 C1506.4,2040.8 1506.9,2042.7 1507.3,2045.9 C1508.0,2051.2 1508.8,2061.3 1509.5,2067.5 C1509.9,2072.0 1510.3,2074.7 1510.8,2079.4 C1511.5,2086.2 1512.8,2097.4 1513.5,2104.2 C1514.1,2108.9 1514.2,2111.6 1514.9,2116.1 C1515.8,2122.0 1517.1,2129.2 1518.9,2136.4 C1521.0,2144.8 1524.1,2153.9 1527.0,2163.4 C1530.3,2174.0 1534.3,2186.5 1537.8,2197.1 C1541.0,2206.7 1543.7,2217.4 1547.3,2224.1 C1549.8,2228.8 1551.7,2233.0 1555.4,2235.0 C1559.2,2237.0 1565.5,2236.9 1570.2,2235.8 C1575.0,2234.7 1579.4,2231.4 1583.7,2228.2 C1588.5,2224.6 1593.3,2220.0 1597.2,2214.7 C1601.5,2208.9 1604.9,2202.0 1608.0,2194.4 C1611.8,2185.6 1614.9,2175.1 1617.5,2164.7 C1620.3,2153.6 1623.0,2138.2 1624.3,2129.6 C1625.0,2124.6 1625.0,2122.0 1625.5,2117.7 C1626.0,2112.6 1626.6,2106.1 1627.1,2101.0 C1627.5,2096.7 1628.0,2093.1 1628.3,2089.1 C1628.6,2085.1 1628.7,2082.0 1628.9,2077.1 C1629.3,2069.3 1630.0,2054.8 1630.4,2047.0 C1630.7,2042.1 1630.8,2039.1 1631.0,2035.1 C1631.2,2031.1 1631.3,2028.3 1631.5,2023.1 C1631.9,2013.1 1632.8,1989.5 1633.2,1979.5 C1633.4,1974.3 1633.6,1971.5 1633.7,1967.5 C1633.9,1963.5 1634.0,1960.8 1634.2,1955.5 C1634.6,1945.5 1635.5,1922.0 1635.9,1912.0 C1636.1,1906.7 1636.3,1904.0 1636.4,1900.0 L1643.8,1694.5 C1644.7,1696.8 1645.2,1700.4 1646.5,1701.5 C1647.4,1702.2 1648.6,1701.8 1649.7,1702.0 L1652.4,1780.0 C1652.5,1784.0 1652.5,1786.1 1652.6,1792.0 C1652.8,1808.7 1653.6,1871.3 1653.8,1888.0 C1653.9,1893.9 1653.9,1896.0 1654.0,1900.0 C1654.1,1904.0 1654.3,1907.1 1654.5,1912.0 C1654.8,1919.7 1655.3,1934.3 1655.7,1942.0 C1655.8,1946.9 1656.0,1950.0 1656.1,1954.0 C1656.3,1958.0 1656.3,1960.5 1656.4,1966.0 C1656.7,1978.0 1657.5,2011.1 1657.7,2023.1 C1657.9,2028.5 1657.9,2031.1 1658.0,2035.1 C1658.1,2039.1 1658.2,2041.6 1658.3,2047.1 C1658.6,2059.0 1659.4,2092.1 1659.6,2104.1 C1659.8,2109.6 1659.8,2112.1 1659.9,2116.1 C1660.1,2120.1 1660.3,2123.6 1660.5,2128.1 C1660.8,2133.7 1661.2,2141.7 1661.5,2147.3 C1661.7,2151.8 1661.5,2154.4 1662.1,2159.3 C1663.0,2167.5 1665.0,2181.8 1667.5,2191.7 C1669.7,2200.5 1672.3,2209.8 1675.6,2216.0 C1678.0,2220.6 1680.2,2224.4 1683.7,2226.9 C1687.0,2229.3 1692.3,2228.7 1695.8,2230.9 C1699.5,2233.2 1701.8,2237.2 1705.3,2240.4 C1709.3,2243.9 1714.0,2247.8 1718.8,2251.2 C1723.8,2254.6 1729.6,2258.5 1735.0,2260.6 C1739.9,2262.5 1745.5,2264.4 1749.9,2263.9 C1753.5,2263.4 1756.6,2261.9 1759.3,2259.3 C1762.8,2255.8 1765.0,2249.5 1767.4,2243.1 C1770.7,2234.3 1772.8,2221.2 1775.5,2210.6 C1778.2,2200.5 1780.8,2190.3 1783.6,2180.9 C1786.2,2172.4 1788.7,2161.1 1791.7,2156.6 C1793.2,2154.4 1794.9,2152.4 1796.3,2152.6 C1798.0,2152.8 1799.8,2156.2 1801.2,2159.3 C1803.6,2164.8 1804.8,2174.8 1806.6,2183.6 C1808.8,2194.2 1810.7,2207.9 1813.3,2218.7 C1815.7,2228.4 1818.1,2238.1 1821.4,2245.8 C1824.2,2252.0 1826.9,2258.1 1830.9,2262.0 C1834.3,2265.3 1838.6,2267.4 1843.1,2268.7 C1847.6,2270.1 1853.9,2271.1 1857.9,2270.1 C1861.2,2269.2 1863.3,2265.8 1866.0,2264.7 C1868.3,2263.7 1870.6,2262.9 1872.8,2263.3 C1875.1,2263.7 1877.2,2265.6 1879.5,2267.4 C1882.6,2269.7 1885.5,2274.4 1889.0,2276.8 C1892.3,2279.1 1895.5,2280.4 1899.8,2281.7 C1905.7,2283.4 1915.2,2284.2 1921.4,2284.9 C1926.0,2285.4 1929.2,2285.5 1933.4,2285.8 C1937.8,2286.1 1942.8,2286.5 1947.2,2286.8 C1951.4,2287.1 1954.3,2287.4 1959.2,2287.6 C1966.9,2288.0 1981.3,2288.3 1989.0,2288.4 C1993.9,2288.5 1996.7,2288.4 2001.0,2288.4 C2006.1,2288.4 2012.5,2288.4 2017.5,2288.4 C2021.8,2288.4 2027.0,2289.8 2029.5,2288.4 C2031.3,2287.5 2031.6,2285.1 2032.8,2283.6 C2033.9,2282.1 2035.2,2279.4 2036.3,2279.5 C2037.5,2279.6 2038.3,2283.2 2039.8,2284.9 C2041.4,2286.8 2043.2,2289.3 2045.7,2290.3 C2048.6,2291.5 2052.9,2291.1 2056.5,2290.9 C2060.5,2290.6 2064.6,2289.2 2068.7,2288.4 L2070.6,2279.5 C2071.3,2281.8 2071.3,2285.5 2072.8,2286.3 C2074.0,2287.0 2076.6,2286.1 2078.2,2284.9 C2080.4,2283.2 2082.1,2279.3 2083.6,2275.5 C2085.5,2270.4 2086.5,2263.7 2087.6,2256.6 C2089.0,2247.2 2089.9,2232.3 2090.3,2224.1 C2090.5,2219.2 2090.4,2218.3 2090.4,2212.1 C2090.6,2191.2 2091.3,2095.0 2091.5,2074.0 C2091.6,2067.8 2091.6,2066.0 2091.6,2062.0 C2091.6,2058.0 2091.6,2056.2 2091.7,2050.0 C2091.8,2029.0 2092.4,1933.0 2092.5,1912.0 C2092.6,1905.8 2092.6,1904.0 2092.6,1900.0 L2094.6,1472.0 C2095.1,1471.5 2095.5,1470.5 2096.0,1470.5 C2096.6,1470.5 2097.3,1472.0 2098.0,1473.0 C2098.9,1474.3 2099.7,1476.3 2100.6,1478.0 L2102.8,1900.0 C2102.8,1904.0 2102.8,1905.8 2102.8,1912.0 C2102.9,1933.0 2103.1,2029.0 2103.2,2050.0 C2103.2,2056.2 2103.2,2058.0 2103.2,2062.0 C2103.2,2066.0 2103.2,2068.0 2103.3,2074.0 C2103.3,2092.3 2103.7,2166.8 2103.8,2185.1 C2103.8,2191.2 2103.7,2192.1 2103.8,2197.1 C2104.0,2205.8 2104.4,2221.6 2105.2,2232.3 C2105.8,2241.1 2106.3,2249.2 2107.9,2256.6 C2109.2,2263.0 2110.2,2269.7 2113.3,2274.1 C2115.9,2277.9 2119.9,2280.4 2124.1,2282.2 C2128.7,2284.2 2135.0,2284.3 2140.3,2284.9 C2145.3,2285.5 2150.2,2285.5 2155.1,2285.7 L2158.7,2279.5 C2159.6,2278.6 2160.5,2276.7 2161.4,2276.8 C2162.4,2277.0 2163.0,2280.6 2164.1,2282.2 C2165.0,2283.7 2165.5,2285.3 2167.3,2286.3 C2170.8,2288.1 2180.5,2288.0 2186.2,2287.6 C2191.1,2287.3 2196.3,2286.3 2199.7,2284.9 C2202.0,2284.0 2203.4,2281.6 2205.1,2281.4 C2206.5,2281.3 2207.2,2282.7 2209.2,2283.0 C2213.3,2283.7 2223.9,2283.3 2229.4,2281.4 C2233.8,2279.9 2237.6,2277.7 2240.2,2274.1 C2243.4,2269.9 2244.3,2263.0 2245.6,2256.6 C2247.2,2249.2 2247.5,2238.5 2248.3,2232.3 C2248.9,2228.4 2249.4,2225.9 2250.0,2222.8 L2249.3,2220.0 C2249.6,2216.0 2249.8,2212.8 2250.1,2208.0 C2250.5,2201.0 2251.3,2189.0 2251.7,2182.0 C2252.0,2177.2 2252.2,2174.0 2252.5,2170.0 C2252.8,2166.0 2253.0,2162.8 2253.3,2158.0 C2253.8,2151.0 2254.7,2139.0 2255.2,2132.0 C2255.5,2127.2 2255.8,2124.0 2256.0,2120.0 C2256.2,2116.0 2256.2,2113.8 2256.4,2108.0 C2257.0,2092.2 2259.0,2035.8 2259.6,2020.0 C2259.8,2014.2 2259.9,2012.0 2260.0,2008.0 C2260.1,2004.0 2260.2,2001.8 2260.5,1996.0 C2261.1,1980.7 2263.1,1927.3 2263.7,1912.0 C2264.0,1906.2 2264.0,1904.0 2264.2,1900.0 L2267.3,1797.0 C2267.8,1796.5 2268.2,1795.5 2268.8,1795.5 C2269.5,1795.5 2270.2,1796.8 2271.0,1797.5 C2271.9,1798.3 2273.0,1799.2 2274.0,1800.0 L2275.6,1900.0 C2275.7,1904.0 2275.7,1906.2 2275.8,1912.0 C2276.1,1927.4 2277.0,1980.7 2277.3,1996.1 C2277.4,2001.9 2277.4,2004.1 2277.5,2008.0 C2277.6,2012.0 2277.6,2014.2 2277.7,2020.0 C2278.0,2035.4 2278.9,2088.7 2279.2,2104.1 C2279.3,2109.9 2279.3,2112.1 2279.4,2116.1 C2279.5,2120.1 2279.7,2122.8 2279.9,2128.1 C2280.3,2138.1 2281.2,2161.6 2281.6,2171.6 C2281.8,2176.9 2281.8,2179.6 2282.1,2183.6 C2282.4,2187.6 2282.9,2191.3 2283.3,2195.6 C2283.8,2200.7 2284.4,2207.1 2285.0,2212.2 C2285.4,2216.5 2285.4,2219.3 2286.1,2224.1 C2287.4,2231.9 2289.6,2245.9 2292.9,2253.9 C2295.4,2259.9 2298.6,2264.9 2302.4,2268.7 C2305.5,2272.0 2310.0,2275.6 2313.2,2276.0 C2315.4,2276.3 2317.1,2274.8 2319.1,2274.1 L2321.8,2272.2 C2323.0,2273.5 2323.6,2274.8 2325.3,2276.0 C2328.4,2278.2 2334.7,2280.6 2340.2,2282.2 C2346.6,2284.1 2354.6,2285.3 2361.8,2285.7 C2369.0,2286.2 2378.2,2286.9 2383.4,2284.9 C2387.1,2283.5 2389.3,2281.1 2391.5,2278.2 C2394.0,2274.9 2395.3,2268.9 2396.9,2266.0 C2397.9,2264.3 2398.7,2261.9 2399.6,2262.0 C2401.0,2262.1 2401.8,2269.6 2403.7,2272.8 C2405.4,2275.8 2408.2,2278.2 2410.4,2280.9" fill="none" stroke="#17171a" stroke-width="3.6" stroke-linejoin="round"/>
<rect x="200.5" y="2428.3" width="2237.5" height="6.2" fill="#000"/>
<rect x="315.9" y="2431" width="7.6" height="36" rx="3.5" fill="#000"/>
<text x="271.0" y="2519.3" font-size="63.5" fill="#000">6.0</text>
<rect x="569.4" y="2431" width="7.6" height="20.3" rx="3.5" fill="#000"/>
<text x="528.7" y="2519.3" font-size="63.5" fill="#000">5.5</text>
<rect x="822.9" y="2431" width="7.6" height="36" rx="3.5" fill="#000"/>
<text x="776.5" y="2519.3" font-size="63.5" fill="#000">5.0</text>
<rect x="1076.4" y="2431" width="7.6" height="20.3" rx="3.5" fill="#000"/>
<text x="1034.2" y="2519.3" font-size="63.5" fill="#000">4.5</text>
<rect x="1329.9" y="2431" width="7.6" height="36" rx="3.5" fill="#000"/>
<text x="1287.3" y="2519.3" font-size="63.5" fill="#000">4.0</text>
<rect x="1583.4" y="2431" width="7.6" height="20.3" rx="3.5" fill="#000"/>
<text x="1542.1" y="2519.3" font-size="63.5" fill="#000">3.5</text>
<rect x="1836.9" y="2431" width="7.6" height="36" rx="3.5" fill="#000"/>
<text x="1793.3" y="2519.3" font-size="63.5" fill="#000">3.0</text>
<rect x="2090.4" y="2431" width="7.6" height="20.3" rx="3.5" fill="#000"/>
<text x="2048.0" y="2519.3" font-size="63.5" fill="#000">2.5</text>
<rect x="2343.9" y="2431" width="7.6" height="36" rx="3.5" fill="#000"/>
<text x="2301.5" y="2519.3" font-size="63.5" fill="#000">2.0</text>
<text transform="translate(1364.8,2597.3) scale(1,1.07)" font-size="52" fill="#000">f1(ppm)</text>
<text x="1523" y="1759" font-size="47" fill="#000" textLength="74.5" lengthAdjust="spacingAndGlyphs">H<tspan font-size="30" dy="11">2</tspan><tspan dy="-11">O</tspan></text>
<text x="1956.8" y="1534" font-size="46" fill="#000" textLength="122.5" lengthAdjust="spacingAndGlyphs">DMSO</text>
<text x="2255.5" y="1766.5" font-size="67" fill="#ff0000">a</text>
<text transform="translate(1457.2,2025.7) scale(1,1.067)" font-size="67.5" fill="#ff0000">b</text>
<text x="697" y="1880" font-size="46" fill="#ff0000">CAA</text>
<polyline points="572.9,1537.0 562.7,1537.0 562.7,1737.4 572.9,1737.4" fill="none" stroke="#000" stroke-width="3.4" stroke-linejoin="miter" stroke-linecap="butt"/>
<polyline points="950.0,1538.1 962.5,1538.1 962.5,1735.5 950.0,1735.5" fill="none" stroke="#000" stroke-width="3.4" stroke-linejoin="miter" stroke-linecap="butt"/>
<polyline points="523.8,1633.4 599.4,1587.3 716.6,1623.9 813.1,1595.6" fill="none" stroke="#000" stroke-width="4.3" stroke-linejoin="miter" stroke-linecap="butt"/>
<polyline points="599.4,1587.3 657.3,1702.2 777.2,1668.2 896.3,1703.4 843.3,1608.8" fill="none" stroke="#000" stroke-width="4.3" stroke-linejoin="miter" stroke-linecap="butt"/>
<line x1="657.3" y1="1702.2" x2="642.9" y2="1709.0" stroke="#000" stroke-width="4.3" stroke-linecap="round"/>
<line x1="777.2" y1="1668.2" x2="796.1" y2="1714.7" stroke="#000" stroke-width="4.3" stroke-linecap="round"/>
<polyline points="716.6,1623.9 695.8,1569.1 707.2,1558.5" fill="none" stroke="#000" stroke-width="4.3" stroke-linejoin="miter" stroke-linecap="butt"/>
<line x1="896.3" y1="1703.4" x2="919.0" y2="1669.3" stroke="#000" stroke-width="4.3" stroke-linecap="round"/>
<line x1="949.2" y1="1659.9" x2="992.7" y2="1680.7" stroke="#000" stroke-width="4.3" stroke-linecap="round"/>
<polyline points="737.4,1529.4 775.3,1502.9 818.8,1523.0 854.7,1501.0 890.6,1520.7" fill="none" stroke="#ff0000" stroke-width="4.0" stroke-linejoin="miter" stroke-linecap="butt"/>
<line x1="770.7" y1="1501.8" x2="770.7" y2="1472.7" stroke="#ff0000" stroke-width="3.8" stroke-linecap="round"/>
<line x1="779.8" y1="1501.8" x2="779.8" y2="1472.7" stroke="#ff0000" stroke-width="3.8" stroke-linecap="round"/>
<line x1="850.2" y1="1500.3" x2="850.2" y2="1472.7" stroke="#ff0000" stroke-width="3.8" stroke-linecap="round"/>
<line x1="859.2" y1="1500.3" x2="859.2" y2="1472.7" stroke="#ff0000" stroke-width="3.8" stroke-linecap="round"/>
<text x="701.5" y="1560.4" font-size="54" fill="#000" textLength="35" lengthAdjust="spacingAndGlyphs">O</text>
<text x="816.0" y="1605.8" font-size="54" fill="#000" textLength="35" lengthAdjust="spacingAndGlyphs">O</text>
<text x="912.7" y="1667.4" font-size="54" fill="#000" textLength="35" lengthAdjust="spacingAndGlyphs">O</text>
<text x="756.0" y="1466.2" font-size="54" fill="#ff0000" textLength="35" lengthAdjust="spacingAndGlyphs">O</text>
<text x="835.4" y="1466.2" font-size="54" fill="#ff0000" textLength="35" lengthAdjust="spacingAndGlyphs">O</text>
<text x="578.6" y="1733.6" font-size="48" text-anchor="start" fill="#000" textLength="61.5" lengthAdjust="spacingAndGlyphs">RO</text>
<text x="788.5" y="1750.7" font-size="48" text-anchor="start" fill="#000" textLength="63.0" lengthAdjust="spacingAndGlyphs">OR</text>
<text x="978.7" y="1737.4" font-size="48" text-anchor="start" fill="#000">n</text>
</g>
</svg></body></html>
